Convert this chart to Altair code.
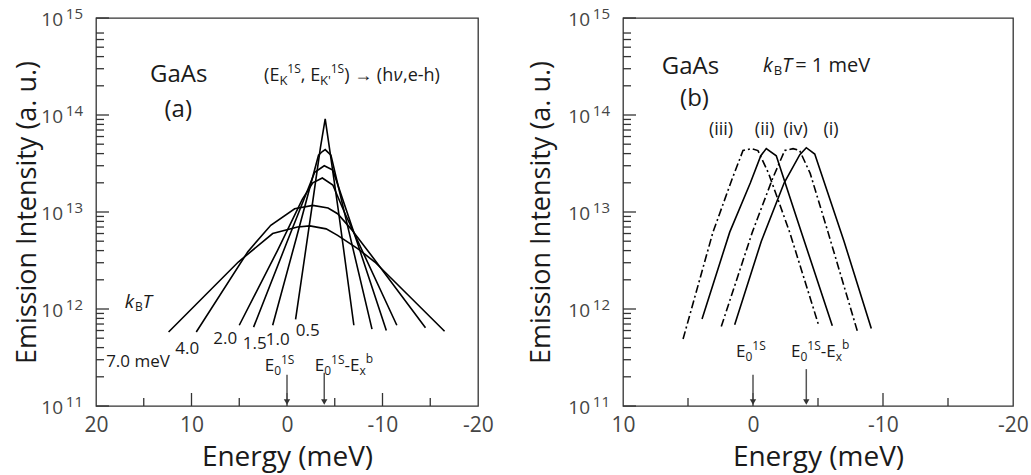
import altair as alt
import pandas as pd

# ---------------- panel (a): spectra for several kB*T (meV) ----------------
kT_names = ["0.5", "1.0", "1.5", "2.0", "4.0", "7.0"]

E_a_05 = [-0.9, -2.6, -3.5, -4.0, -4.5, -5.4, -7.0]
I_a_05 = [7.8e11, 1.1e13, 4.6e13, 9.1e13, 4.2e13, 1.0e13, 6.8e11]

E_a_10 = [1.5, -1.0, -3.3, -3.7, -4.0, -4.6, -6.5, -8.9]
I_a_10 = [6.8e11, 5.5e12, 3.85e13, 4.2e13, 4.4e13, 3.85e13, 6.2e12, 6.2e11]

E_a_15 = [3.5, 0.0, -2.9, -3.9, -4.8, -7.5, -10.4]
I_a_15 = [6.5e11, 4.9e12, 2.57e13, 3.0e13, 2.7e13, 4.4e12, 6.0e11]

E_a_20 = [5.0, 1.0, -1.6, -2.7, -3.7, -4.8, -6.0, -11.5]
I_a_20 = [6.8e11, 4.0e12, 1.35e13, 2.0e13, 2.24e13, 1.9e13, 1.0e13, 6.8e11]

E_a_40 = [9.5, 4.1, 1.7, -0.8, -2.7, -4.3, -5.3, -6.7, -8.8, -14.5]
I_a_40 = [5.8e11, 3.9e12, 7.3e12, 1.08e13, 1.17e13, 1.1e13, 9.6e12, 6.7e12, 3.6e12, 6.4e11]

E_a_70 = [12.4, 5.1, 1.5, -1.1, -2.4, -4.1, -5.3, -7.4, -9.2, -16.5]
I_a_70 = [5.8e11, 3.05e12, 6.0e12, 7.0e12, 7.2e12, 6.7e12, 5.75e12, 4.2e12, 3.05e12, 5.9e11]

kT_label_text = ["7.0 meV", "4.0", "2.0", "1.5", "1.0", "0.5"]

# ---------------- panel (b): kB*T = 1 meV, four channels ----------------
E_b_i = [1.41, -0.64, -2.4, -3.6, -4.1, -4.75, -7.0, -9.1]
I_b_i = [6.9e11, 5.0e12, 2.0e13, 3.9e13, 4.6e13, 3.96e13, 5.0e12, 6.3e11]

E_b_ii = [3.92, 1.79, 0.2, -0.6, -1.02, -1.79, -3.72, -6.1]
I_b_ii = [7.9e11, 6.2e12, 2.0e13, 3.8e13, 4.5e13, 3.8e13, 6.2e12, 6.7e11]

E_b_iii = [5.38, 3.08, 1.6, 0.77, 0.13, -0.38, -1.2, -2.82, -5.08]
I_b_iii = [4.9e11, 6.2e12, 2.2e13, 4.3e13, 4.5e13, 4.3e13, 2.5e13, 6.2e12, 6.6e11]

E_b_iv = [2.44, 0.05, -1.5, -2.44, -3.08, -3.59, -4.4, -5.77, -8.08]
I_b_iv = [6.6e11, 6.2e12, 2.2e13, 4.3e13, 4.5e13, 4.3e13, 2.5e13, 6.2e12, 5.6e11]

channel_names = ["(iii)", "(ii)", "(iv)", "(i)"]

# ---------------- axes ----------------
decades = [1e11, 1e12, 1e13, 1e14, 1e15]
decade_exp = ["11", "12", "13", "14", "15"]
minor_y = [m * 10.0 ** d for d in (11, 12, 13) for m in range(2, 10)] + [m * 1e14 for m in range(2, 8)]

xa_labels = [20, 10, 0, -10, -20]
xa_major = [10, 0, -10]
xa_minor = [15, 5, -5, -15]

xb_labels = [10, 0, -10, -20]
xb_major = [0, -10]
xb_minor = [5, -5, -15]

# ---------------- styling ----------------
FONT = "Open Sans"
INK = "#1a1a1a"
TICKLAB = "#454545"
FRAME = "#333333"
W_A, W_B, H = 382, 390, 388

CHAR_W = {" ": .26, "(": .30, ")": .30, ",": .25, "-": .32, ".": .27, "'": .22, "=": .57,
          "\u2192": 1.0, "E": .56, "K": .60, "S": .55, "T": .66, "B": .63, "a": .56,
          "b": .62, "e": .56, "h": .62, "k": .54, "m": .93, "V": .59, "x": .52,
          "\u03bd": .53, "i": .26, "v": .50}


def text_width(s, size):
    return sum(CHAR_W.get(c, .57) for c in s) * size


def frame(names, Es, Is):
    rows = []
    for n, es, vs in zip(names, Es, Is):
        for k, (e, v) in enumerate(zip(es, vs)):
            rows.append({"curve": n, "E": e, "I": v, "k": k})
    return pd.DataFrame(rows)


def scales(xdom):
    xs = alt.Scale(domain=xdom, reverse=True, nice=False, zero=False)
    ys = alt.Scale(type="log", domain=[1e11, 1e15], nice=False)
    return xs, ys


def enc(xs, ys, xf="E", yf="I"):
    return dict(x=alt.X(f"{xf}:Q", scale=xs), y=alt.Y(f"{yf}:Q", scale=ys))


def rich(E, I, parts, xs, ys, color=INK):
    out = []
    cur = 0.0
    for text, size, shift, style in parts:
        out.append(
            alt.Chart(pd.DataFrame({"E": [E], "I": [I]}))
            .mark_text(text=text, font=FONT, fontSize=size, fontStyle=style, color=color,
                       align="left", baseline="alphabetic", dx=cur, dy=shift)
            .encode(**enc(xs, ys))
        )
        cur += text_width(text, size)
    return out


def axis_layers(xs, ys, xmajor, xminor, height):
    dec = pd.DataFrame({"I": decades, "e": decade_exp})
    layers = [
        alt.Chart(dec).mark_rule(color=FRAME, strokeWidth=1.3)
        .encode(y=alt.Y("I:Q", scale=ys), x=alt.value(0), x2=alt.value(13)),
        alt.Chart(pd.DataFrame({"I": minor_y})).mark_rule(color=FRAME, strokeWidth=1.3)
        .encode(y=alt.Y("I:Q", scale=ys), x=alt.value(0), x2=alt.value(8)),
        alt.Chart(pd.DataFrame({"E": xmajor})).mark_rule(color=FRAME, strokeWidth=1.3)
        .encode(x=alt.X("E:Q", scale=xs), y=alt.value(height), y2=alt.value(height - 13)),
        alt.Chart(pd.DataFrame({"E": xminor})).mark_rule(color=FRAME, strokeWidth=1.3)
        .encode(x=alt.X("E:Q", scale=xs), y=alt.value(height), y2=alt.value(height - 8)),
        # decade labels drawn as "10" with a raised exponent
        alt.Chart(dec).mark_text(text="10", font=FONT, fontSize=19, color=TICKLAB,
                                 align="right", baseline="middle", dy=2)
        .encode(y=alt.Y("I:Q", scale=ys), x=alt.value(-33)),
        alt.Chart(dec).mark_text(font=FONT, fontSize=15, color=TICKLAB,
                                 align="right", baseline="middle", dy=-4)
        .encode(y=alt.Y("I:Q", scale=ys), x=alt.value(-13), text="e:N"),
    ]
    return layers


def main_axes(xs, ys, xlabels, ytitle_pad):
    x = alt.X("E:Q", scale=xs, axis=alt.Axis(
        values=xlabels, ticks=False, domain=False, grid=False, labelFlush=False, labelOverlap=False,
        labelFont=FONT, labelFontSize=21, labelColor=TICKLAB, labelPadding=8,
        labelExpr="datum.value < 0 ? '-' + abs(datum.value) : '' + datum.value",
        title="Energy (meV)", titleFont=FONT, titleFontSize=28, titleFontWeight="normal",
        titleColor=INK, titlePadding=8))
    y = alt.Y("I:Q", scale=ys, axis=alt.Axis(
        values=decades, labels=False, ticks=False, domain=False, grid=False,
        title="Emission Intensity (a. u.)", titleFont=FONT, titleFontSize=27,
        titleFontWeight="normal", titleColor=INK, titlePadding=ytitle_pad))
    return x, y


def arrows(Es, tops, xs, ys):
    df = pd.DataFrame({"E": Es, "I": tops, "bot": [1.1e11] * len(Es)})
    return [
        alt.Chart(df).mark_rule(color="#555555", strokeWidth=1.5)
        .encode(x=alt.X("E:Q", scale=xs), y=alt.Y("I:Q", scale=ys), y2="bot:Q"),
        alt.Chart(df).mark_point(shape="triangle-down", filled=True, size=40, color="#333333", opacity=1)
        .encode(x=alt.X("E:Q", scale=xs), y=alt.Y("bot:Q", scale=ys)),
    ]


def e_labels(E1, E2, I, xs, ys):
    lab1 = [("E", 17, 0, "normal"), ("0", 12, 4, "normal"), ("1S", 12, -7, "normal")]
    lab2 = lab1 + [("-E", 17, 0, "normal"), ("x", 12, 4, "normal"), ("b", 12, -8, "normal")]
    return rich(E1, I, lab1, xs, ys) + rich(E2, I, lab2, xs, ys)


# ================= panel (a) =================
xs_a, ys_a = scales([-20, 20])
df_a = frame(kT_names, [E_a_05, E_a_10, E_a_15, E_a_20, E_a_40, E_a_70],
             [I_a_05, I_a_10, I_a_15, I_a_20, I_a_40, I_a_70])
xa, ya = main_axes(xs_a, ys_a, xa_labels, 55)
curves_a = alt.Chart(df_a).mark_line(color="black", strokeWidth=1.6).encode(
    x=xa, y=ya, detail="curve:N", order="k:Q")

label_pos_E = [15.6, 10.45, 6.47, 3.38, 0.97, -2.17]
label_pos_I = [2.85e11, 3.9e11, 4.94e11, 4.39e11, 4.79e11, 5.89e11]
kT_text = alt.Chart(pd.DataFrame({"t": kT_label_text, "E": label_pos_E, "I": label_pos_I})).mark_text(
    font=FONT, fontSize=17, color=INK, align="center", baseline="middle").encode(
    **enc(xs_a, ys_a), text="t:N")

head_a = alt.Chart(pd.DataFrame({"t": ["GaAs", "(a)"], "E": [11.34, 11.39], "I": [2.58e14, 1.13e14]})).mark_text(
    font=FONT, fontSize=24, color=INK, align="center", baseline="middle").encode(**enc(xs_a, ys_a), text="t:N")

formula = rich(2.4, 2.24e14, [
    ("(E", 18, 0, "normal"), ("K", 13, 4, "normal"), ("1S", 12, -8, "normal"),
    (", E", 18, 0, "normal"), ("K'", 13, 4, "normal"), ("1S", 12, -8, "normal"),
    (") \u2192 (h", 18, 0, "normal"), ("\u03bd", 18, 0, "italic"), (",e-h)", 18, 0, "normal")],
    xs_a, ys_a)

kbt_a = rich(17.0, 1.02e12, [("k", 19, 0, "italic"), ("B", 12, 3, "normal"), ("T", 19, 0, "italic")],
             xs_a, ys_a)

panel_a = alt.layer(
    curves_a,
    *axis_layers(xs_a, ys_a, xa_major, xa_minor, H),
    *arrows([0.0, -3.9], [2.1e11, 2.2e11], xs_a, ys_a),
    kT_text, head_a, *formula, *kbt_a,
    *e_labels(2.34, -2.9, 2.3e11, xs_a, ys_a),
).properties(width=W_A, height=H)

# ================= panel (b) =================
xs_b, ys_b = scales([-20, 10])
solid_b = frame(["(i)", "(ii)"], [E_b_i, E_b_ii], [I_b_i, I_b_ii])
dash_b = frame(["(iii)", "(iv)"], [E_b_iii, E_b_iv], [I_b_iii, I_b_iv])
xb, yb = main_axes(xs_b, ys_b, xb_labels, 68)
curves_b = alt.Chart(solid_b).mark_line(color="black", strokeWidth=1.6).encode(
    x=xb, y=yb, detail="curve:N", order="k:Q")
curves_b2 = alt.Chart(dash_b).mark_line(color="black", strokeWidth=1.6, strokeDash=[8, 3, 2, 3]).encode(
    **enc(xs_b, ys_b), detail="curve:N", order="k:Q")

chan_text = alt.Chart(pd.DataFrame({"t": channel_names, "E": [2.46, -0.9, -3.28, -6.0],
                                    "I": [6.97e13] * 4})).mark_text(
    font=FONT, fontSize=18, color=INK, align="center", baseline="middle").encode(**enc(xs_b, ys_b), text="t:N")

head_b = alt.Chart(pd.DataFrame({"t": ["GaAs", "(b)"], "E": [4.81, 4.5], "I": [3.12e14, 1.46e14]})).mark_text(
    font=FONT, fontSize=24, color=INK, align="center", baseline="middle").encode(**enc(xs_b, ys_b), text="t:N")

kbt_b = rich(-0.77, 2.8e14, [("k", 20, 0, "italic"), ("B", 13, 3, "normal"), ("T", 20, 0, "italic"),
                             (" = 1 meV", 20, 0, "normal")], xs_b, ys_b)

panel_b = alt.layer(
    curves_b, curves_b2,
    *axis_layers(xs_b, ys_b, xb_major, xb_minor, H),
    *arrows([0.0, -4.1], [2.1e11, 2.4e11], xs_b, ys_b),
    chan_text, head_b, *kbt_b,
    *e_labels(1.31, -2.92, 3.22e11, xs_b, ys_b),
).properties(width=W_B, height=H)

chart = alt.hconcat(panel_a, panel_b, spacing=31).properties(
    padding={"left": 12, "top": 6, "right": 0, "bottom": 8}
).configure_view(stroke=FRAME, strokeWidth=1.3)

chart.save("out.html", embed_options={"renderer": "svg", "actions": False})
